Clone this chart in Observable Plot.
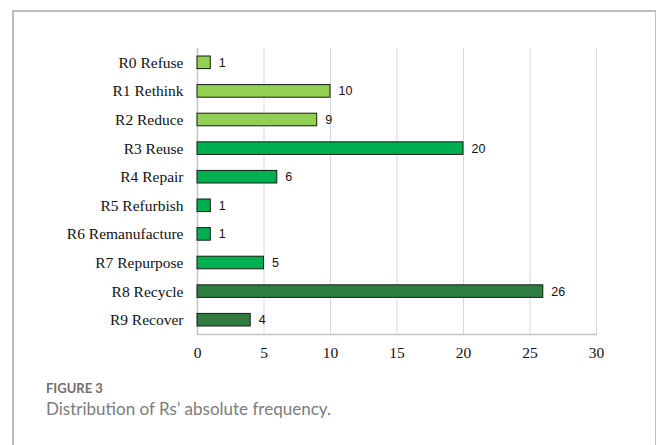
<!DOCTYPE html>
<html>
<head>
<meta charset="utf-8">
<script src="https://cdn.jsdelivr.net/npm/d3@7"></script>
<script src="https://cdn.jsdelivr.net/npm/@observablehq/plot@0.6"></script>
<style>
  html, body { margin: 0; padding: 0; background: #fff; }
  #page { position: relative; width: 656px; height: 445px; overflow: hidden; }
  #frame {
    position: absolute; left: 12px; top: 10px; width: 641px; height: 460px;
    border-top: 2px solid #bdbdbd; border-left: 2px solid #bdbdbd; border-right: 2px solid #bdbdbd;
  }
  #chart { position: absolute; left: 0; top: 0; }
  #label { position: absolute; left: 46px; top: 381px; line-height: 1.2; font-family: Lato, sans-serif;
    font-size: 13px; font-weight: 700; color: #707070; }
  #caption { position: absolute; left: 46px; top: 399px; line-height: 1.2; font-family: Lato, sans-serif;
    font-size: 17px; font-weight: 400; color: #7c7c7c; }
</style>
</head>
<body>
<div id="page">
  <div id="frame"></div>
  <div id="chart"></div>
  <div id="label">FIGURE 3</div>
  <div id="caption">Distribution of Rs’ absolute frequency.</div>
</div>
<script>
// Frequency of each R strategy, grouped by colour tier
const categories = ["R0 Refuse", "R1 Rethink", "R2 Reduce", "R3 Reuse", "R4 Repair",
  "R5 Refurbish", "R6 Remanufacture", "R7 Repurpose", "R8 Recycle", "R9 Recover"];
const counts = [1, 10, 9, 20, 6, 1, 1, 5, 26, 4];
const tiers = ["smart", "smart", "smart", "extend", "extend", "extend", "extend", "extend", "useful", "useful"];
const tierNames = ["smart", "extend", "useful"];
const tierColors = ["#92d050", "#00b050", "#2e7d40"];
const xTicks = [0, 5, 10, 15, 20, 25, 30];

const data = categories.map((name, i) => ({name, value: counts[i], tier: tiers[i]}));

const chart = Plot.plot({
  width: 656,
  height: 365,
  marginLeft: 197,
  marginRight: 60,
  marginTop: 48,
  marginBottom: 31,
  style: {fontFamily: "'Liberation Serif', 'Times New Roman', serif", fontSize: "15.5px", color: "#111", background: "transparent"},
  x: {domain: [0, 30], ticks: xTicks, label: null},
  y: {domain: categories, paddingInner: 0.56, paddingOuter: 0.28, round: false, label: null},
  color: {domain: tierNames, range: tierColors},
  marks: [
    Plot.gridX(xTicks, {stroke: "#d9d9d9", strokeOpacity: 1, strokeWidth: 1}),
    Plot.frame({anchor: "bottom", stroke: "#c4c4c4", strokeWidth: 1.5}),
    Plot.ruleX([0], {stroke: "#c4c4c4", strokeWidth: 1.5}),
    Plot.barX(data, {x: "value", y: "name", fill: "tier", stroke: "#1a1a1a", strokeWidth: 1}),
    Plot.text(data, {x: "value", y: "name", text: d => String(d.value), dx: 8, textAnchor: "start",
      fontFamily: "'Liberation Sans', Arial, sans-serif", fontSize: 12.5, fill: "#111"}),
    Plot.axisX(xTicks, {tickSize: 0, tickPadding: 12, fontSize: 15.5, label: null}),
    Plot.axisY({tickSize: 0, tickPadding: 14, fontSize: 15.5, label: null})
  ]
});
document.getElementById("chart").appendChild(chart);
</script>
</body>
</html>
